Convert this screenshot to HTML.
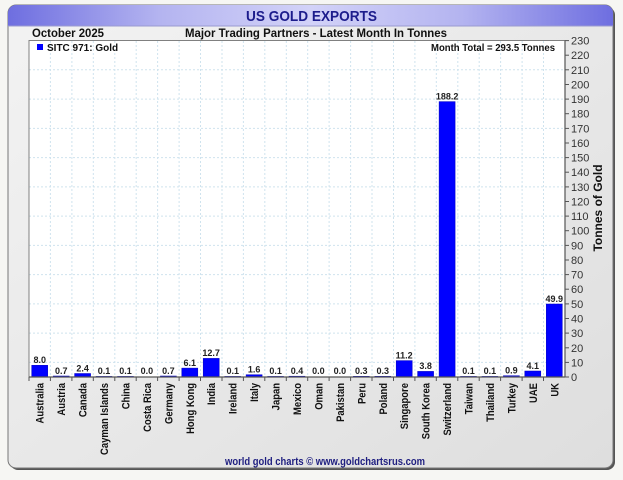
<!DOCTYPE html>
<html><head><meta charset="utf-8"><style>
html,body{margin:0;padding:0;background:#f6f6f3;}
svg{display:block;}
text{font-family:"Liberation Sans",Arial,sans-serif;}
</style></head><body>
<svg width="623" height="480" viewBox="0 0 623 480" xmlns="http://www.w3.org/2000/svg">
<defs>
<linearGradient id="hdr" x1="0" y1="0" x2="1" y2="0">
<stop offset="0" stop-color="#6e6ee0"/>
<stop offset="0.25" stop-color="#b4b4f0"/>
<stop offset="0.5" stop-color="#d2d2f8"/>
<stop offset="0.75" stop-color="#b4b4f0"/>
<stop offset="1" stop-color="#6e6ee0"/>
</linearGradient>
<linearGradient id="body" x1="0" y1="0" x2="1" y2="1">
<stop offset="0" stop-color="#f3f3f3"/>
<stop offset="1" stop-color="#dedede"/>
</linearGradient>
<clipPath id="pc"><rect x="8" y="5" width="605" height="463" rx="8"/></clipPath>
</defs>
<rect x="0" y="0" width="623" height="480" fill="#f6f6f3"/>
<rect x="10" y="7" width="605" height="463" rx="8" fill="#555"/>
<rect x="8" y="5" width="605" height="463" rx="8" fill="url(#body)" stroke="#777" stroke-width="1"/>
<g clip-path="url(#pc)">
<rect x="8" y="5" width="605" height="21" fill="url(#hdr)"/>
<line x1="8" y1="26" x2="613" y2="26" stroke="#9a9ad0" stroke-width="1"/>
</g>
<text x="311.5" y="21" text-anchor="middle" font-size="15" font-weight="bold" fill="#1c1c8c" textLength="131" lengthAdjust="spacingAndGlyphs">US GOLD EXPORTS</text>
<text x="32" y="37" font-size="12" font-weight="bold" fill="#111" textLength="72" lengthAdjust="spacingAndGlyphs">October 2025</text>
<text x="316" y="37" text-anchor="middle" font-size="12" font-weight="bold" fill="#111" textLength="262" lengthAdjust="spacingAndGlyphs">Major Trading Partners - Latest Month In Tonnes</text>
<rect x="29" y="40.5" width="536" height="336.5" fill="#ffffff"/>
<g stroke="#cfe3ee" stroke-width="1" stroke-dasharray="2,2">
<line x1="29" y1="362.4" x2="565" y2="362.4"/>
<line x1="29" y1="333.1" x2="565" y2="333.1"/>
<line x1="29" y1="303.9" x2="565" y2="303.9"/>
<line x1="29" y1="274.6" x2="565" y2="274.6"/>
<line x1="29" y1="245.4" x2="565" y2="245.4"/>
<line x1="29" y1="216.1" x2="565" y2="216.1"/>
<line x1="29" y1="186.9" x2="565" y2="186.9"/>
<line x1="29" y1="157.6" x2="565" y2="157.6"/>
<line x1="29" y1="128.4" x2="565" y2="128.4"/>
<line x1="29" y1="99.1" x2="565" y2="99.1"/>
<line x1="29" y1="69.8" x2="565" y2="69.8"/>
<line x1="50.4" y1="41" x2="50.4" y2="377"/>
<line x1="71.9" y1="41" x2="71.9" y2="377"/>
<line x1="93.3" y1="41" x2="93.3" y2="377"/>
<line x1="114.8" y1="41" x2="114.8" y2="377"/>
<line x1="136.2" y1="41" x2="136.2" y2="377"/>
<line x1="157.6" y1="41" x2="157.6" y2="377"/>
<line x1="179.1" y1="41" x2="179.1" y2="377"/>
<line x1="200.5" y1="41" x2="200.5" y2="377"/>
<line x1="222.0" y1="41" x2="222.0" y2="377"/>
<line x1="243.4" y1="41" x2="243.4" y2="377"/>
<line x1="264.8" y1="41" x2="264.8" y2="377"/>
<line x1="286.3" y1="41" x2="286.3" y2="377"/>
<line x1="307.7" y1="41" x2="307.7" y2="377"/>
<line x1="329.1" y1="41" x2="329.1" y2="377"/>
<line x1="350.6" y1="41" x2="350.6" y2="377"/>
<line x1="372.0" y1="41" x2="372.0" y2="377"/>
<line x1="393.5" y1="41" x2="393.5" y2="377"/>
<line x1="414.9" y1="41" x2="414.9" y2="377"/>
<line x1="436.3" y1="41" x2="436.3" y2="377"/>
<line x1="457.8" y1="41" x2="457.8" y2="377"/>
<line x1="479.2" y1="41" x2="479.2" y2="377"/>
<line x1="500.6" y1="41" x2="500.6" y2="377"/>
<line x1="522.1" y1="41" x2="522.1" y2="377"/>
<line x1="543.5" y1="41" x2="543.5" y2="377"/>
</g>
<rect x="37" y="44" width="6" height="6" fill="#0000ff"/>
<text x="47" y="51" font-size="10" font-weight="bold" fill="#111">SITC 971: Gold</text>
<text x="555" y="51" text-anchor="end" font-size="10" font-weight="bold" fill="#111" textLength="124" lengthAdjust="spacingAndGlyphs">Month Total = 293.5 Tonnes</text>
<g fill="#0000ff" stroke="#0000c0" stroke-width="0.5">
<rect x="31.7" y="365.3" width="16" height="11.7"/>
<rect x="53.2" y="376" width="16" height="1"/>
<rect x="74.6" y="373.5" width="16" height="3.5"/>
<rect x="96.0" y="376.4" width="16" height="0.6"/>
<rect x="117.5" y="376.4" width="16" height="0.6"/>
<rect x="160.4" y="376" width="16" height="1"/>
<rect x="181.8" y="368.1" width="16" height="8.9"/>
<rect x="203.2" y="358.4" width="16" height="18.6"/>
<rect x="224.7" y="376.4" width="16" height="0.6"/>
<rect x="246.1" y="374.7" width="16" height="2.3"/>
<rect x="267.6" y="376.4" width="16" height="0.6"/>
<rect x="289.0" y="376.2" width="16" height="0.8"/>
<rect x="353.3" y="376.3" width="16" height="0.7"/>
<rect x="374.8" y="376.3" width="16" height="0.7"/>
<rect x="396.2" y="360.6" width="16" height="16.4"/>
<rect x="417.6" y="371.4" width="16" height="5.6"/>
<rect x="439.1" y="101.6" width="16" height="275.4"/>
<rect x="460.5" y="376.4" width="16" height="0.6"/>
<rect x="481.9" y="376.4" width="16" height="0.6"/>
<rect x="503.4" y="375.7" width="16" height="1.3"/>
<rect x="524.8" y="371.0" width="16" height="6.0"/>
<rect x="546.3" y="304.0" width="16" height="73.0"/>
</g>
<g font-size="9" font-weight="bold" fill="#222" text-anchor="middle">
<text x="39.7" y="363">8.0</text>
<text x="61.2" y="374">0.7</text>
<text x="82.6" y="371.5">2.4</text>
<text x="104.0" y="374">0.1</text>
<text x="125.5" y="374">0.1</text>
<text x="146.9" y="374">0.0</text>
<text x="168.4" y="374">0.7</text>
<text x="189.8" y="366">6.1</text>
<text x="211.2" y="356">12.7</text>
<text x="232.7" y="374">0.1</text>
<text x="254.1" y="372.5">1.6</text>
<text x="275.6" y="374">0.1</text>
<text x="297.0" y="374">0.4</text>
<text x="318.4" y="374">0.0</text>
<text x="339.9" y="374">0.0</text>
<text x="361.3" y="374">0.3</text>
<text x="382.8" y="374">0.3</text>
<text x="404.2" y="358.5">11.2</text>
<text x="425.6" y="369">3.8</text>
<text x="447.1" y="99.5">188.2</text>
<text x="468.5" y="374">0.1</text>
<text x="489.9" y="374">0.1</text>
<text x="511.4" y="373.5">0.9</text>
<text x="532.8" y="369">4.1</text>
<text x="554.3" y="302">49.9</text>
</g>
<rect x="29" y="40.5" width="536" height="336.5" fill="none" stroke="#808080" stroke-width="1"/>
<line x1="29" y1="377" x2="565" y2="377" stroke="#555" stroke-width="1.2"/>
<line x1="565" y1="40.5" x2="565" y2="377" stroke="#555" stroke-width="1.2"/>
<g stroke="#555" stroke-width="1">
<line x1="29" y1="377" x2="29" y2="381"/>
<line x1="50.4" y1="377" x2="50.4" y2="381"/>
<line x1="71.9" y1="377" x2="71.9" y2="381"/>
<line x1="93.3" y1="377" x2="93.3" y2="381"/>
<line x1="114.8" y1="377" x2="114.8" y2="381"/>
<line x1="136.2" y1="377" x2="136.2" y2="381"/>
<line x1="157.6" y1="377" x2="157.6" y2="381"/>
<line x1="179.1" y1="377" x2="179.1" y2="381"/>
<line x1="200.5" y1="377" x2="200.5" y2="381"/>
<line x1="222.0" y1="377" x2="222.0" y2="381"/>
<line x1="243.4" y1="377" x2="243.4" y2="381"/>
<line x1="264.8" y1="377" x2="264.8" y2="381"/>
<line x1="286.3" y1="377" x2="286.3" y2="381"/>
<line x1="307.7" y1="377" x2="307.7" y2="381"/>
<line x1="329.1" y1="377" x2="329.1" y2="381"/>
<line x1="350.6" y1="377" x2="350.6" y2="381"/>
<line x1="372.0" y1="377" x2="372.0" y2="381"/>
<line x1="393.5" y1="377" x2="393.5" y2="381"/>
<line x1="414.9" y1="377" x2="414.9" y2="381"/>
<line x1="436.3" y1="377" x2="436.3" y2="381"/>
<line x1="457.8" y1="377" x2="457.8" y2="381"/>
<line x1="479.2" y1="377" x2="479.2" y2="381"/>
<line x1="500.6" y1="377" x2="500.6" y2="381"/>
<line x1="522.1" y1="377" x2="522.1" y2="381"/>
<line x1="543.5" y1="377" x2="543.5" y2="381"/>
</g>
<g stroke="#555" stroke-width="1">
<line x1="565" y1="377" x2="569" y2="377"/>
<line x1="565" y1="362.4" x2="569" y2="362.4"/>
<line x1="565" y1="347.8" x2="569" y2="347.8"/>
<line x1="565" y1="333.1" x2="569" y2="333.1"/>
<line x1="565" y1="318.5" x2="569" y2="318.5"/>
<line x1="565" y1="303.9" x2="569" y2="303.9"/>
<line x1="565" y1="289.2" x2="569" y2="289.2"/>
<line x1="565" y1="274.6" x2="569" y2="274.6"/>
<line x1="565" y1="260.0" x2="569" y2="260.0"/>
<line x1="565" y1="245.4" x2="569" y2="245.4"/>
<line x1="565" y1="230.7" x2="569" y2="230.7"/>
<line x1="565" y1="216.1" x2="569" y2="216.1"/>
<line x1="565" y1="201.5" x2="569" y2="201.5"/>
<line x1="565" y1="186.9" x2="569" y2="186.9"/>
<line x1="565" y1="172.2" x2="569" y2="172.2"/>
<line x1="565" y1="157.6" x2="569" y2="157.6"/>
<line x1="565" y1="143.0" x2="569" y2="143.0"/>
<line x1="565" y1="128.4" x2="569" y2="128.4"/>
<line x1="565" y1="113.7" x2="569" y2="113.7"/>
<line x1="565" y1="99.1" x2="569" y2="99.1"/>
<line x1="565" y1="84.5" x2="569" y2="84.5"/>
<line x1="565" y1="69.8" x2="569" y2="69.8"/>
<line x1="565" y1="55.2" x2="569" y2="55.2"/>
<line x1="565" y1="40.6" x2="569" y2="40.6"/>
</g>
<g font-size="11" fill="#333">
<text x="571" y="381">0</text>
<text x="571" y="366.4">10</text>
<text x="571" y="351.8">20</text>
<text x="571" y="337.1">30</text>
<text x="571" y="322.5">40</text>
<text x="571" y="307.9">50</text>
<text x="571" y="293.2">60</text>
<text x="571" y="278.6">70</text>
<text x="571" y="264.0">80</text>
<text x="571" y="249.4">90</text>
<text x="571" y="234.7">100</text>
<text x="571" y="220.1">110</text>
<text x="571" y="205.5">120</text>
<text x="571" y="190.9">130</text>
<text x="571" y="176.2">140</text>
<text x="571" y="161.6">150</text>
<text x="571" y="147.0">160</text>
<text x="571" y="132.4">170</text>
<text x="571" y="117.7">180</text>
<text x="571" y="103.1">190</text>
<text x="571" y="88.5">200</text>
<text x="571" y="73.8">210</text>
<text x="571" y="59.2">220</text>
<text x="571" y="44.6">230</text>
</g>
<text transform="translate(602,208) rotate(-90)" text-anchor="middle" font-size="12" font-weight="bold" fill="#111">Tonnes of Gold</text>
<g font-size="11" font-weight="bold" fill="#111" text-anchor="end">
<text transform="translate(43.7,383) rotate(-90) scale(0.86,1)">Australia</text>
<text transform="translate(65.2,383) rotate(-90) scale(0.86,1)">Austria</text>
<text transform="translate(86.6,383) rotate(-90) scale(0.86,1)">Canada</text>
<text transform="translate(108.0,383) rotate(-90) scale(0.86,1)">Cayman Islands</text>
<text transform="translate(129.5,383) rotate(-90) scale(0.86,1)">China</text>
<text transform="translate(150.9,383) rotate(-90) scale(0.86,1)">Costa Rica</text>
<text transform="translate(172.4,383) rotate(-90) scale(0.86,1)">Germany</text>
<text transform="translate(193.8,383) rotate(-90) scale(0.86,1)">Hong Kong</text>
<text transform="translate(215.2,383) rotate(-90) scale(0.86,1)">India</text>
<text transform="translate(236.7,383) rotate(-90) scale(0.86,1)">Ireland</text>
<text transform="translate(258.1,383) rotate(-90) scale(0.86,1)">Italy</text>
<text transform="translate(279.6,383) rotate(-90) scale(0.86,1)">Japan</text>
<text transform="translate(301.0,383) rotate(-90) scale(0.86,1)">Mexico</text>
<text transform="translate(322.4,383) rotate(-90) scale(0.86,1)">Oman</text>
<text transform="translate(343.9,383) rotate(-90) scale(0.86,1)">Pakistan</text>
<text transform="translate(365.3,383) rotate(-90) scale(0.86,1)">Peru</text>
<text transform="translate(386.8,383) rotate(-90) scale(0.86,1)">Poland</text>
<text transform="translate(408.2,383) rotate(-90) scale(0.86,1)">Singapore</text>
<text transform="translate(429.6,383) rotate(-90) scale(0.86,1)">South Korea</text>
<text transform="translate(451.1,383) rotate(-90) scale(0.86,1)">Switzerland</text>
<text transform="translate(472.5,383) rotate(-90) scale(0.86,1)">Taiwan</text>
<text transform="translate(493.9,383) rotate(-90) scale(0.86,1)">Thailand</text>
<text transform="translate(515.4,383) rotate(-90) scale(0.86,1)">Turkey</text>
<text transform="translate(536.8,383) rotate(-90) scale(0.86,1)">UAE</text>
<text transform="translate(558.3,383) rotate(-90) scale(0.86,1)">UK</text>
</g>
<text x="325" y="465" text-anchor="middle" font-size="11" font-weight="bold" fill="#1e1e80" textLength="200" lengthAdjust="spacingAndGlyphs">world gold charts © www.goldchartsrus.com</text>
</svg>
</body></html>
